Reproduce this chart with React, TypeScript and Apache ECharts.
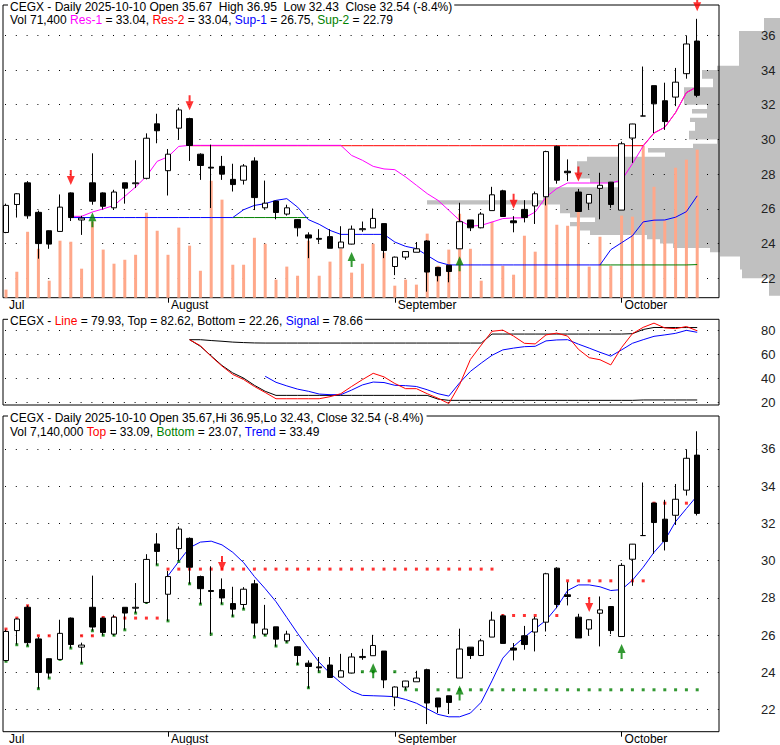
import React, { useEffect, useRef } from "react";
import * as echarts from "echarts";

// ---------- DATA ----------
const dates = [
  "2025-07-11", "2025-07-14", "2025-07-15", "2025-07-16", "2025-07-17", "2025-07-18", "2025-07-21", "2025-07-22", "2025-07-23", "2025-07-24",
  "2025-07-25", "2025-07-28", "2025-07-29", "2025-07-30", "2025-07-31", "2025-08-01", "2025-08-04", "2025-08-05", "2025-08-06", "2025-08-07",
  "2025-08-08", "2025-08-11", "2025-08-12", "2025-08-13", "2025-08-14", "2025-08-15", "2025-08-18", "2025-08-19", "2025-08-20", "2025-08-21",
  "2025-08-22", "2025-08-25", "2025-08-26", "2025-08-27", "2025-08-28", "2025-08-29", "2025-09-02", "2025-09-03", "2025-09-04", "2025-09-05",
  "2025-09-08", "2025-09-09", "2025-09-10", "2025-09-11", "2025-09-12", "2025-09-15", "2025-09-16", "2025-09-17", "2025-09-18", "2025-09-19",
  "2025-09-22", "2025-09-23", "2025-09-24", "2025-09-25", "2025-09-26", "2025-09-29", "2025-09-30", "2025-10-01", "2025-10-02", "2025-10-03",
  "2025-10-06", "2025-10-07", "2025-10-08", "2025-10-09", "2025-10-10",
];
const padCategories = [" ", "  "];
const monthNames = ["Jan", "Feb", "Mar", "Apr", "May", "Jun", "Jul", "August", "September", "October", "Nov", "Dec"];

const opens = [
  24.64, 26.25, 27.5, 25.8, 24.74, 24.7, 26.92, 25.36, 27.5, 26.92,
  26.06, 27.5, 27.45, 27.76, 30.9, 28.2, 30.65, 31.2, 29.15, 28.4,
  28.45, 27.7, 27.65, 28.76, 26.06, 26.45, 25.7, 25.38, 24.5, 24.3,
  24.4, 23.75, 23.97, 24.8, 24.9, 25.15, 22.68, 23.22, 23.5, 24.15,
  22.63, 22.75, 23.7, 25.36, 24.91, 25.9, 27.04, 25.31, 25.97, 26.17,
  26.7, 29.6, 28.17, 26.97, 26.33, 27.18, 27.54, 25.93, 30.08, 31.35,
  33.1, 32.23, 32.44, 33.79, 35.67,
];
const highs = [
  26.3, 26.9, 27.6, 25.9, 24.76, 26.83, 26.95, 25.6, 29.2, 26.95,
  27.1, 27.5, 28.8, 30.35, 31.48, 29.45, 31.84, 31.25, 29.2, 29.7,
  29.05, 28.6, 28.58, 28.97, 27.63, 26.45, 26.24, 25.4, 24.65, 24.83,
  24.83, 25.0, 25.04, 25.27, 26.02, 25.15, 23.25, 23.55, 24.09, 24.2,
  22.63, 22.75, 26.35, 25.36, 25.81, 27.27, 27.1, 25.58, 26.5, 27.0,
  29.35, 29.65, 28.85, 27.15, 26.85, 28.08, 27.55, 29.87, 30.9, 34.2,
  33.1, 33.27, 34.12, 35.98, 36.95,
];
const lows = [
  24.6, 25.5, 25.43, 23.13, 23.7, 24.7, 25.3, 24.5, 26.24, 26.0,
  26.0, 26.3, 27.2, 27.7, 29.78, 26.77, 30.0, 28.76, 27.67, 26.05,
  27.67, 27.0, 27.4, 25.93, 26.0, 25.4, 25.61, 24.41, 23.16, 24.05,
  23.73, 23.75, 23.95, 24.68, 24.9, 23.16, 22.18, 23.07, 23.5, 21.23,
  21.82, 21.77, 23.7, 24.72, 24.88, 25.9, 25.56, 24.65, 25.22, 25.13,
  26.2, 27.45, 27.6, 25.85, 26.0, 25.4, 26.06, 25.93, 28.65, 31.35,
  30.37, 30.55, 31.92, 33.5, 32.43,
];
const closes = [
  26.2, 26.87, 25.6, 24.0, 23.97, 26.1, 25.5, 25.47, 26.44, 26.15,
  26.97, 27.19, 27.5, 30.07, 30.5, 29.15, 31.7, 29.65, 28.5, 28.35,
  28.0, 27.4, 28.47, 26.65, 26.33, 25.79, 26.06, 24.91, 24.32, 24.25,
  23.73, 24.09, 24.83, 24.86, 25.45, 23.6, 23.22, 23.54, 23.7, 22.36,
  22.15, 22.39, 25.26, 24.91, 25.7, 26.81, 25.56, 25.2, 25.5, 26.87,
  29.3, 27.65, 28.08, 25.85, 26.83, 27.36, 26.25, 29.75, 30.89, 31.35,
  32.05, 31.03, 33.3, 35.5, 32.54,
];
// volume in thousands of shares
const volumes = [
  3.9, 12.5, 31.8, 23.6, 8.2, 27.5, 27.0, 14.0, 36.7, 23.2,
  16.4, 18.3, 20.7, 41.0, 32.3, 20.7, 33.8, 25.1, 13.0, 56.4,
  47.3, 15.9, 15.9, 28.9, 26.0, 8.7, 15.0, 10.6, 27.5, 10.6,
  17.4, 23.6, 12.1, 16.4, 26.0, 21.7, 5.8, 8.7, 6.3, 30.9,
  15.4, 23.2, 40.5, 23.6, 8.2, 36.7, 15.4, 11.1, 29.9, 22.2,
  48.2, 35.2, 34.7, 42.0, 15.0, 29.4, 15.4, 39.6, 39.1, 73.3,
  53.5, 37.1, 62.7, 66.6, 71.4,
];

// Upper panel overlays (value arrays start at the given index)
const res1Start = 6;
const res1Values = [
  25.57, 25.57, 25.82, 26.0, 26.2, 26.72, 27.26, 27.88, 28.74, 29.0, 29.6,
  29.66, 29.66, 29.66, 29.66, 29.66, 29.66, 29.66, 29.66, 29.66, 29.66, 29.66, 29.66, 29.66, 29.66, 29.66,
  29.08, 28.8, 28.45, 28.3, 28.26, 27.84, 27.36, 26.88, 26.49, 25.92, 25.34, 25.0, 25.05, 25.24, 25.44, 25.48, 25.48, 25.82, 26.68, 27.17,
  27.49, 27.49, 27.49, 27.49, 27.49,
  27.65, 28.6, 29.62, 30.37, 30.7, 31.55, 32.7, 33.04,
];
const res2Start = 17;
const res2Values = [
  29.64, 29.64, 29.64, 29.64, 29.64, 29.64, 29.64, 29.64, 29.64, 29.64,
  29.64, 29.64, 29.64, 29.64, 29.64, 29.64, 29.64, 29.64, 29.64, 29.64,
  29.64, 29.64, 29.64, 29.64, 29.64, 29.64, 29.64, 29.64, 29.64, 29.64,
  29.64, 29.64, 29.64, 29.64, 29.64, 29.64, 29.64, 29.64, 29.64, 29.64,
  29.64, 29.64, 29.64, 30.37, 30.7, 31.55, 32.7, 33.04,
];
const sup1Start = 6;
const sup1Values = [
  25.5, 25.5, 25.5, 25.5, 25.5, 25.5, 25.5, 25.5, 25.5, 25.5, 25.5, 25.5, 25.5, 25.5, 25.5, 25.5,
  25.95, 26.2, 26.3, 26.49, 26.59, 26.1, 25.38, 25.11, 24.76,
  24.53, 24.53, 24.53, 24.53, 24.53,
  24.09, 23.84, 23.71, 23.32, 22.94,
  22.77, 22.77, 22.77, 22.77, 22.77, 22.77, 22.77, 22.77, 22.77, 22.77, 22.77, 22.77, 22.77, 22.77, 22.77,
  23.65, 24.05, 24.45, 25.25, 25.35, 25.36, 25.52, 25.84, 26.75,
];
// Sup-2 where it is not hidden under Sup-1
const sup2aStart = 21;
const sup2aValues = [25.5, 25.5, 25.5, 25.5, 25.5, 25.5, 25.5, 25.5];
const sup2bStart = 55;
const sup2bValues = [22.77, 22.77, 22.77, 22.77, 22.77, 22.77, 22.77, 22.77, 22.77, 22.79];

// Volume at price profile (0.25 bins, lower bound of each bin)
const profileBinSize = 0.25;
const profileBins = [
  21.0, 21.25, 21.5, 21.75, 22.0, 22.25, 22.5, 22.75, 23.0, 23.25,
  23.5, 23.75, 24.0, 24.25, 24.5, 24.75, 25.0, 25.25, 25.5, 25.75,
  26.0, 26.25, 26.5, 26.75, 27.0, 27.25, 27.5, 27.75, 28.0, 28.25,
  28.5, 28.75, 29.0, 29.25, 29.5, 29.75, 30.0, 30.25, 30.5, 30.75,
  31.0, 31.25, 31.5, 31.75, 32.0, 32.25, 32.5, 32.75, 33.0, 33.25,
  33.5, 33.75, 34.0, 34.25, 34.5, 34.75, 35.0, 35.25, 35.5, 35.75,
  36.0, 36.25, 36.5, 36.75,
];
const profileVolumes = [
  11, 11, 11, 11, 38, 38, 40, 40, 40, 60,
  70, 107, 120, 133, 190, 200, 210, 185, 210, 220,
  220, 353, 237, 237, 237, 162, 190, 203, 203, 203,
  203, 193, 115, 132, 87, 63, 91, 91, 85, 85,
  90, 73, 88, 73, 96, 96, 96, 96, 67, 67,
  78, 78, 63, 41, 41, 41, 41, 41, 41, 41,
  41, 16, 16, 16,
];

// Oscillator panel
const oscLineStart = 17;
const oscLineValues = [
  72.5, 67.5, 58.5, 50.5, 43.5, 39.3, 33.5, 28.5, 23.3, 23.3,
  23.3, 23.3, 23.3, 25.0, 27.5, 33.5, 39.2, 44.5, 41.5, 36.0,
  31.7, 31.7, 27.5, 23.7, 19.3, 35.0, 56.0, 68.0, 79.5, 80.5,
  75.5, 69.5, 69.0, 76.5, 78.0, 75.5, 64.5, 57.5, 55.8, 51.5,
  66.0, 77.5, 82.8, 86.3, 82.3, 81.7, 83.5, 79.93,
];
const oscTopStart = 17;
const oscTopValues = [
  72.5, 72.5, 71.8, 71.2, 70.5, 70.1, 69.8, 69.7, 69.7, 69.7,
  69.7, 69.7, 69.7, 69.7, 69.7, 69.7, 69.7, 69.7, 69.7, 69.7,
  69.7, 69.7, 69.7, 69.7, 69.7, 69.7, 69.7, 69.7, 77.2, 77.2,
  77.2, 77.2, 77.2, 77.2, 77.2, 77.2, 77.2, 77.2, 77.2, 77.2,
  77.2, 77.5, 81.0, 82.7, 82.62, 82.62, 82.62, 82.62,
];
const oscBottomStart = 17;
const oscBottomValues = [
  72.5, 67.0, 59.0, 51.0, 44.8, 40.5, 34.5, 29.5, 26.1, 26.1,
  26.1, 26.1, 26.1, 26.1, 26.1, 26.1, 26.1, 26.1, 26.1, 26.1,
  26.1, 26.1, 26.1, 23.0, 21.95, 21.95, 21.95, 21.95, 21.95, 21.95,
  21.95, 21.95, 21.95, 21.95, 21.95, 21.95, 21.95, 21.95, 21.95, 21.95,
  21.95, 21.95, 22.26, 22.26, 22.26, 22.26, 22.26, 22.26,
];
const oscSignalStart = 24;
const oscSignalValues = [
  42.0, 37.0, 34.0, 31.3, 29.5, 27.2, 26.7, 26.7, 30.5, 34.8,
  37.2, 36.8, 34.5, 34.2, 33.5, 30.8, 27.5, 25.5, 36.5, 46.1,
  53.0, 59.5, 64.0, 65.5, 66.7, 67.0, 71.5, 72.3, 72.5, 68.8,
  65.5, 62.0, 58.8, 64.0, 69.5, 72.5, 75.3, 76.5, 77.8, 80.3,
  78.66,
];

// Lower panel overlays
const topDots = [
  26.33, 26.92, 27.58, 25.97, 25.97, 25.97, 25.97, 25.97, 25.97, 26.95,
  26.95, 26.92, 26.92, 26.92, 26.92, 29.55, 29.55, 29.55, 29.55, 29.55,
  29.55, 29.55, 29.55, 29.55, 29.55, 29.55, 29.55, 29.55, 29.55, 29.55,
  29.55, 29.55, 29.55, 29.55, 29.55, 29.55, 29.55, 29.55, 29.55, 29.55,
  29.55, 29.55, 29.55, 29.55, 29.55, 29.55, 27.06, 27.06, 27.06, 27.06,
  27.06, 27.06, 28.92, 28.92, 28.92, 28.92, 28.92, 28.92, 28.92, 28.92,
  33.09, 33.09, 33.09, 33.09, 33.09,
];
const bottomDots = [
  24.6, 25.49, 25.43, 23.13, 23.7, 24.7, 25.31, 24.5, 26.24, 26.0,
  26.0, 26.29, 27.19, 27.76, 29.78, 26.77, 29.96, 28.76, 27.67, 26.06,
  27.69, 27.03, 27.4, 25.9, 26.0, 25.42, 25.63, 24.45, 23.18, 24.04,
  24.04, 24.04, 24.04, 24.04, 24.04, 24.04, 24.04, 23.07, 23.07, 23.07,
  23.07, 23.07, 23.07, 23.07, 23.07, 23.07, 23.07, 23.07, 23.07, 23.07,
  23.07, 23.07, 23.07, 23.07, 23.07, 23.07, 23.07, 23.07, 23.07, 23.07,
  23.07, 23.07, 23.07, 23.07, 23.07,
];
const trendStart = 15;
const trendValues = [
  29.19, 29.96, 30.7, 31.0, 31.05, 30.85, 30.45, 29.9, 29.15, 28.5,
  27.8, 26.95, 26.1, 25.3, 24.55, 23.95, 23.45, 23.0, 22.77, 22.75,
  22.73, 22.7, 22.55, 22.35, 22.05, 21.75, 21.62, 21.62, 21.82, 22.4,
  23.55, 24.77, 25.4, 25.9, 26.35, 26.8, 27.5, 28.4, 28.7, 28.7,
  28.6, 28.4, 28.45, 28.95, 29.65, 30.45, 31.1, 32.1, 32.8, 33.49,
];

// Signals (candle indexes)
const upperSellIdx = [6, 17, 47, 53, 64];
const upperBuyIdx = [8, 32, 42];
const lowerSellIdx = [20, 54];
const lowerBuyIdx = [34, 42, 57];

const priceTicks = [22, 24, 26, 28, 30, 32, 34, 36];
const oscTicks = [20, 40, 60, 80];

// ---------- STYLE ----------
const FONT = '"Liberation Sans", Arial, Helvetica, sans-serif';
const DOWN_ARROW = "path://M3,0 L5,0 L5,6 L8,6 L4,15 L0,6 L3,6 Z";
const UP_ARROW = "path://M4,0 L8,9 L5,9 L5,15 L3,15 L3,9 L0,9 Z";
const NB = "\u00a0";
const N = dates.length;

function seg(start: number, values: number[]) {
  const out: (number | null)[] = [];
  for (let i = 0; i < N; i++) out.push(null);
  values.forEach((v, k) => {
    out[start + k] = v;
  });
  return out;
}
function merge(a: (number | null)[], b: (number | null)[]) {
  return a.map((v, i) => (v == null ? b[i] : v));
}

const monthStartIdx: number[] = [];
dates.forEach((d, i) => {
  if (i === 0 || d.slice(5, 7) !== dates[i - 1].slice(5, 7)) monthStartIdx.push(i);
});
const tickIdx = monthStartIdx.filter((i) => i > 0);

const TOP_MIN = 20.882;
const TOP_MAX = 37.746;

function buildOption() {
  const cats = dates.concat(padCategories);
  const candleData = dates.map((_, i) => [opens[i], closes[i], lows[i], highs[i]]);
  const rich = {
    m: { color: "#ff00ff", fontSize: 12, fontFamily: FONT, lineHeight: 12 },
    r: { color: "#ff0000", fontSize: 12, fontFamily: FONT, lineHeight: 12 },
    b: { color: "#0000ff", fontSize: 12, fontFamily: FONT, lineHeight: 12 },
    g: { color: "#008000", fontSize: 12, fontFamily: FONT, lineHeight: 12 },
  };
  const baseText = { fontSize: 12, fontWeight: "normal", fontFamily: FONT, color: "#000", lineHeight: 12, rich };

  const frameY = (grid: number, min: number, max: number, ticks: number[]) => ({
    gridIndex: grid,
    type: "value",
    position: "right",
    min,
    max,
    axisLine: { show: false },
    axisTick: { show: false, customValues: ticks },
    axisLabel: { customValues: ticks, margin: 42, fontSize: 13, color: "#222", fontFamily: FONT },
    splitLine: { show: true, lineStyle: { color: "#000", width: 1, type: [1, 9.8], dashOffset: -2 } },
  });
  const dataX = (grid: number, labels: boolean) => ({
    gridIndex: grid,
    type: "category",
    data: cats,
    boundaryGap: true,
    axisLine: { show: false },
    axisTick: {
      show: labels,
      interval: (i: number) => tickIdx.indexOf(i) >= 0,
      alignWithLabel: true,
      length: 5,
      lineStyle: { color: "#000", width: 1 },
    },
    axisLabel: {
      show: labels,
      interval: (i: number) => monthStartIdx.indexOf(i) >= 0,
      formatter: (v: string) => monthNames[parseInt(v.slice(5, 7), 10) - 1] || "",
      align: "left",
      padding: [0, 0, 0, 3],
      margin: 1,
      fontSize: 12,
      color: "#000",
      fontFamily: FONT,
    },
    splitLine: { show: false },
  });
  const frameX = (grid: number) => ({ gridIndex: grid, type: "value", min: 0, max: 1, show: false });

  const candle = (xi: number, yi: number) => ({
    type: "candlestick",
    xAxisIndex: xi,
    yAxisIndex: yi,
    data: candleData,
    barWidth: 6,
    z: 4,
    itemStyle: { color: "#ffffff", color0: "#000000", borderColor: "#000000", borderColor0: "#000000", borderWidth: 1 },
  });
  const arrows = (xi: number, yi: number, idx: number[], sell: boolean) => ({
    type: "scatter",
    xAxisIndex: xi,
    yAxisIndex: yi,
    z: 5,
    symbol: sell ? DOWN_ARROW : UP_ARROW,
    symbolSize: [8, 15],
    symbolOffset: [0, sell ? -15 : 15],
    itemStyle: { color: sell ? "#ff0000" : "#008000" },
    data: idx.map((i) => [i, sell ? highs[i] : lows[i]]),
  });
  const line = (xi: number, yi: number, data: (number | null)[], color: string, z = 3) => ({
    type: "line",
    xAxisIndex: xi,
    yAxisIndex: yi,
    data,
    z,
    symbol: "none",
    connectNulls: false,
    lineStyle: { color, width: 1 },
  });
  const dots = (data: number[], color: string) => ({
    type: "scatter",
    xAxisIndex: 5,
    yAxisIndex: 6,
    z: 3,
    symbol: "rect",
    symbolSize: 3,
    itemStyle: { color },
    data: data.map((v, i) => [i, v]),
  });

  return {
    animation: false,
    backgroundColor: "#ffffff",
    textStyle: { fontFamily: FONT },
    title: [
      {
        left: 8, top: 1, padding: [0, 2, 0, 2], backgroundColor: "#ffffff", z: 10,
        text: `CEGX - Daily 2025-10-10 Open 35.67 ${NB}High 36.95 ${NB}Low 32.43 ${NB}Close 32.54 (-8.4%)`,
        textStyle: baseText,
      },
      {
        left: 8, top: 14, padding: [0, 2, 0, 2], z: 10,
        text: "Vol 71,400 {m|Res-1} = 33.04, {r|Res-2} = 33.04, {b|Sup-1} = 26.75, {g|Sup-2} = 22.79",
        textStyle: baseText,
      },
      {
        left: 8, top: 315, padding: [0, 2, 0, 2], backgroundColor: "#ffffff", z: 10,
        text: "CEGX - {r|Line} = 79.93, Top = 82.62, Bottom = 22.26, {b|Signal} = 78.66",
        textStyle: baseText,
      },
      {
        left: 8, top: 411.5, padding: [0, 3, 0, 2], backgroundColor: "#ffffff", z: 10,
        text: "CEGX - Daily 2025-10-10 Open 35.67,Hi 36.95,Lo 32.43, Close 32.54 (-8.4%)",
        textStyle: baseText,
      },
      {
        left: 8, top: 425.5, padding: [0, 2, 0, 2], z: 10,
        text: "Vol 7,140,000 {r|Top} = 33.09, {g|Bottom} = 23.07, {b|Trend} = 33.49",
        textStyle: baseText,
      },
    ],
    grid: [
      { left: 3, top: 5, width: 716, height: 292.7, show: true, borderColor: "#000", borderWidth: 1, backgroundColor: "transparent" },
      { left: 0.6, top: 5, width: 723.6, height: 292.7 },
      { left: 3, top: 319.3, width: 716, height: 85.7, show: true, borderColor: "#000", borderWidth: 1, backgroundColor: "transparent" },
      { left: 0.6, top: 319.3, width: 723.6, height: 85.7 },
      { left: 3, top: 416, width: 716, height: 315.7, show: true, borderColor: "#000", borderWidth: 1, backgroundColor: "transparent" },
      { left: 0.6, top: 416, width: 723.6, height: 315.7 },
      { left: 380, top: 5, width: 400, height: 292.7 },
    ],
    xAxis: [
      frameX(0),
      dataX(1, true),
      frameX(2),
      dataX(3, false),
      frameX(4),
      dataX(5, true),
      { gridIndex: 6, type: "value", min: 0, max: 400, inverse: true, show: false },
    ],
    yAxis: [
      frameY(0, TOP_MIN, TOP_MAX, priceTicks),
      { gridIndex: 1, type: "value", min: TOP_MIN, max: TOP_MAX, show: false },
      { gridIndex: 1, type: "value", min: 0, max: 141.2, show: false },
      frameY(2, 18.08, 89.5, oscTicks),
      { gridIndex: 3, type: "value", min: 18.08, max: 89.5, show: false },
      frameY(4, 20.82, 37.77, priceTicks),
      { gridIndex: 5, type: "value", min: 20.82, max: 37.77, show: false },
      { gridIndex: 6, type: "value", min: TOP_MIN, max: TOP_MAX, show: false },
    ],
    series: [
      {
        // volume-at-price profile drawn as one outline through the library's scales
        type: "custom",
        xAxisIndex: 6,
        yAxisIndex: 7,
        z: -1,
        clip: false,
        data: [[0, profileBins[0]]],
        renderItem: (params: any, api: any) => {
          const pts: number[][] = [];
          pts.push(api.coord([0, profileBins[0]]));
          profileBins.forEach((lo, k) => {
            const v = profileVolumes[k];
            pts.push(api.coord([v, lo]));
            pts.push(api.coord([v, lo + profileBinSize]));
          });
          pts.push(api.coord([0, profileBins[profileBins.length - 1] + profileBinSize]));
          return {
            type: "polygon",
            shape: { points: pts },
            style: { fill: "#c0c0c0", stroke: "none" },
          };
        },
      },
      {
        type: "bar",
        xAxisIndex: 1,
        yAxisIndex: 2,
        data: volumes,
        barWidth: 3,
        z: 2,
        itemStyle: { color: "#ffa88a" },
      },
      line(1, 1, seg(res2Start, res2Values), "#ff0000"),
      line(1, 1, seg(res1Start, res1Values), "#ff00ff"),
      line(1, 1, merge(seg(sup2aStart, sup2aValues), seg(sup2bStart, sup2bValues)), "#008000"),
      line(1, 1, seg(sup1Start, sup1Values), "#0000ff"),
      candle(1, 1),
      arrows(1, 1, upperSellIdx, true),
      arrows(1, 1, upperBuyIdx, false),

      line(3, 4, seg(oscTopStart, oscTopValues), "#000000"),
      line(3, 4, seg(oscBottomStart, oscBottomValues), "#000000"),
      line(3, 4, seg(oscSignalStart, oscSignalValues), "#0000ff"),
      line(3, 4, seg(oscLineStart, oscLineValues), "#ff0000"),

      dots(topDots, "#ff0000"),
      dots(bottomDots, "#008000"),
      line(5, 6, seg(trendStart, trendValues), "#0000ff"),
      candle(5, 6),
      arrows(5, 6, lowerSellIdx, true),
      arrows(5, 6, lowerBuyIdx, false),
    ],
  };
}

export default function App() {
  const ref = useRef<HTMLDivElement>(null);
  useEffect(() => {
    if (!ref.current) return;
    const chart = echarts.init(ref.current, null, { renderer: "svg" });
    chart.setOption(buildOption() as any);
    return () => chart.dispose();
  }, []);
  return (
    <div
      ref={ref}
      style={{ position: "fixed", left: 0, top: 0, width: 780, height: 745, background: "#fff" }}
    />
  );
}
